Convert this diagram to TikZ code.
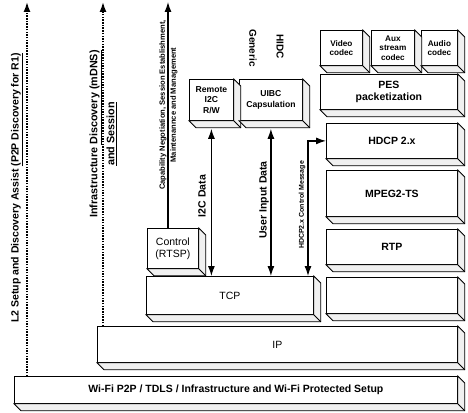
\documentclass[tikz,border=0pt]{standalone}
\usepackage{fontspec}
\setmainfont{Liberation Sans}
\usetikzlibrary{arrows.meta,calc}

\begin{document}
\begin{tikzpicture}[x=1pt,y=-1pt,>={Latex[length=10pt,width=7pt]},line width=0.8pt,
  slab/.style={draw,fill=white,anchor=north west,align=center,inner sep=1pt,
    font=\fontsize{10.5}{12}\selectfont\bfseries},
  plain/.style={font=\fontsize{10.5}{12}\selectfont},
  small/.style={font=\fontsize{8.2}{9.5}\selectfont\bfseries},
  vlabel/.style={rotate=90,align=center,inner sep=0pt},
  dotarrow/.style={->,line width=1.5pt,dash pattern=on 1.5pt off 1.2pt},
  flow/.style={line width=1.2pt}]
  \useasboundingbox (0,0) rectangle (468,412);

  % protocol stack boxes
  \node[slab,minimum width=443pt,minimum height=27pt] (wifi) at (14,376) {Wi-Fi P2P / TDLS / Infrastructure and Wi-Fi Protected Setup};
  \node[slab,plain,minimum width=360pt,minimum height=36pt] (ip) at (97,326) {IP};
  \node[slab,plain,minimum width=167pt,minimum height=38pt] (tcp) at (146,276) {TCP};
  \node[slab,minimum width=131pt,minimum height=36pt] (blank) at (326,277) {};
  \node[slab,minimum width=131pt,minimum height=35pt] (rtp) at (326,229) {RTP};
  \node[slab,minimum width=131pt,minimum height=46pt] (mpeg) at (326,170) {MPEG2-TS};
  \node[slab,minimum width=131pt,minimum height=35pt] (hdcp) at (326,123) {HDCP 2.x};
  \node[slab,minimum width=137pt,minimum height=35pt] (pes) at (320,74) {PES\\packetization};
  \node[slab,small,minimum width=42pt,minimum height=35pt] (video) at (320,30) {Video\\codec};
  \node[slab,small,minimum width=43pt,minimum height=35pt] (aux) at (371,30) {Aux\\stream\\codec};
  \node[slab,small,minimum width=36pt,minimum height=35pt] (audio) at (421,30) {Audio\\codec};
  \node[slab,plain,minimum width=51pt,minimum height=40pt] (rtsp) at (147,228) {Control\\(RTSP)};
  \node[slab,small,font=\fontsize{8.6}{10.5}\selectfont\bfseries,minimum width=44pt,minimum height=41pt] (remote) at (189,79) {Remote\\I2C\\R/W};
  \node[slab,font=\fontsize{8.6}{10.5}\selectfont\bfseries,minimum width=63pt,minimum height=41pt] (uibc) at (239,79) {UIBC\\Capsulation};

  % 3D sides of the boxes
  \foreach \b in {wifi,ip,tcp,blank,rtp,mpeg,hdcp,pes,video,aux,audio,rtsp,remote,uibc} {
    \draw[fill=gray!12] (\b.north east) -- ++(7,7) -- ($(\b.south east)+(7,7)$)
      -- ($(\b.south west)+(7,7)$) -- (\b.south west) -- (\b.south east) -- cycle;
    \draw (\b.south east) -- ++(7,7);
  }

  % arrows
  \coordinate (l2top) at (27,2);
  \coordinate (infotop) at (103,2);
  \coordinate (captop) at (168,2);
  \coordinate (msgx) at (308,143);
  \draw[dotarrow] (wifi.north -| l2top) -- (l2top);
  \draw[dotarrow] (ip.north -| infotop) -- (infotop);
  \draw[flow,->] (rtsp.north -| captop) -- (captop);
  \draw[flow,<->] ([yshift=-8pt]remote.south) -- (remote.south |- tcp.north);
  \draw[flow,<->] ([yshift=-8pt]uibc.south) -- (uibc.south |- tcp.north);
  \draw[flow,<->] (tcp.north -| msgx) |- (hdcp.west);

  % labels
  \node[vlabel,font=\fontsize{10.5}{12}\selectfont\bfseries] (l2lbl) at (17,188)
    {L2 Setup and Discovery Assist \underline{(P2P Discovery for R1)}};
  \node[vlabel,font=\fontsize{10.8}{17}\selectfont\bfseries] (infolbl) at (103,134)
    {Infrastructure \underline{Discovery (mDNS)}\\\underline{and Session}};
  \node[vlabel,font=\fontsize{7.6}{11}\selectfont\bfseries] (caplbl) at (168.5,105)
    {Capability Negotiation, Session Establishment,\\Maintenannce and Management};
  \node[vlabel,font=\fontsize{10.5}{12}\selectfont\bfseries] (i2clbl) at (202,196) {I2C Data};
  \node[vlabel,font=\fontsize{10.5}{12}\selectfont\bfseries] (uidlbl) at (264,200) {User Input Data};
  \node[vlabel,font=\fontsize{7}{8}\selectfont\bfseries] (msglbl) at (302,205) {HDCP2.x Control Message};
  \node[rotate=-90,font=\fontsize{10}{12}\selectfont\bfseries] (generic) at (253,48) {Generic};
  \node[rotate=-90,font=\fontsize{10}{12}\selectfont\bfseries] (hidc) at (280,47) {HIDC};
\end{tikzpicture}
\end{document}
